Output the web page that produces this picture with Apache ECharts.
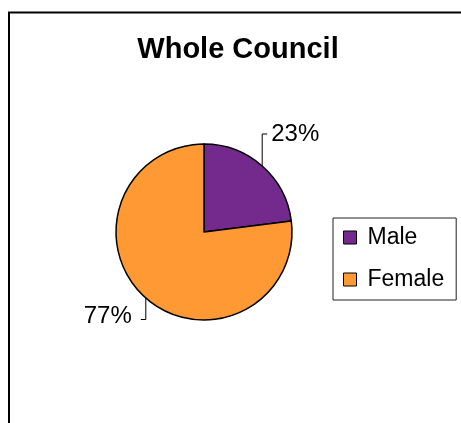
<!DOCTYPE html>
<html>
<head>
<meta charset="utf-8">
<script src="https://cdn.jsdelivr.net/npm/echarts@6/dist/echarts.min.js"></script>
<style>
  html, body { margin: 0; padding: 0; background: #fff; }
  #chart { width: 461px; height: 423px; }
</style>
</head>
<body>
<div id="chart"></div>
<script>
// Council membership by gender (percent)
const categories = ['Male', 'Female'];
const shares = [23, 77];
const sliceColors = ['#742A8C', '#FF9933'];

const FONT = "'Liberation Sans', Arial, sans-serif";
const CX = 204, CY = 232, R = 88;
// Leader lines: a vertical run from the slice's rim midpoint, then a short horizontal tick
const leaderRun = [-32, 21.5];   // negative runs upward
const tickLen = 5;
const textGap = [4, 9];
const textLift = [0, -3];

const total = shares.reduce((a, b) => a + b, 0);

function rimPoint(i) {
  let before = 0;
  for (let k = 0; k < i; k++) before += shares[k];
  const a = (before + shares[i] / 2) / total * 2 * Math.PI;
  return [CX + R * Math.sin(a), CY - R * Math.cos(a)];
}

function leader(i) {
  const p = rimPoint(i);
  const dir = p[0] >= CX ? 1 : -1;
  const y = p[1] + leaderRun[i];
  return { points: [p, [p[0], y], [p[0] + dir * tickLen, y]], dir: dir, y: y };
}

const chart = echarts.init(document.getElementById('chart'), null, { renderer: 'canvas' });

const leaderGraphics = categories.map((_, i) => ({
  type: 'polyline',
  silent: true,
  z: 10,
  shape: { points: leader(i).points },
  style: { stroke: '#000', lineWidth: 1, fill: null }
}));

chart.setOption({
  animation: false,
  backgroundColor: '#fff',
  title: {
    text: 'Whole Council',
    left: 233,
    top: 30,
    textAlign: 'center',
    textStyle: { fontFamily: FONT, fontWeight: 'bold', fontSize: 29, color: '#000' }
  },
  legend: {
    orient: 'vertical',
    left: 333,
    top: 218,
    data: categories,
    icon: 'rect',
    itemWidth: 13,
    itemHeight: 13,
    itemGap: 19,
    padding: [8, 12, 9, 10],
    borderColor: '#222',
    borderWidth: 1,
    selectedMode: false,
    itemStyle: { borderColor: '#000', borderWidth: 1 },
    textStyle: { fontFamily: FONT, fontSize: 23, color: '#000', lineHeight: 22, padding: [0, 0, 0, 6] }
  },
  graphic: [
    {
      type: 'rect',
      silent: true,
      shape: { x: 9, y: 12.5, width: 520, height: 520 },
      style: { stroke: '#000', lineWidth: 2, fill: null }
    }
  ].concat(leaderGraphics),
  series: [{
    type: 'pie',
    center: [CX, CY],
    radius: R,
    startAngle: 90,
    clockwise: true,
    emphasis: { disabled: true },
    data: categories.map((name, i) => ({
      name: name,
      value: shares[i],
      itemStyle: { color: sliceColors[i] }
    })),
    itemStyle: { borderColor: '#000', borderWidth: 1.5 },
    label: {
      show: true,
      position: 'outside',
      formatter: p => Math.round(p.percent) + '%',
      fontFamily: FONT,
      fontSize: 24,
      color: '#000'
    },
    labelLine: { show: false },
    labelLayout: function (params) {
      const i = params.dataIndex;
      const L = leader(i);
      const end = L.points[2];
      return {
        x: end[0] + L.dir * textGap[i],
        y: L.y + textLift[i],
        align: L.dir > 0 ? 'left' : 'right',
        verticalAlign: 'middle'
      };
    }
  }]
});
</script>
</body>
</html>
